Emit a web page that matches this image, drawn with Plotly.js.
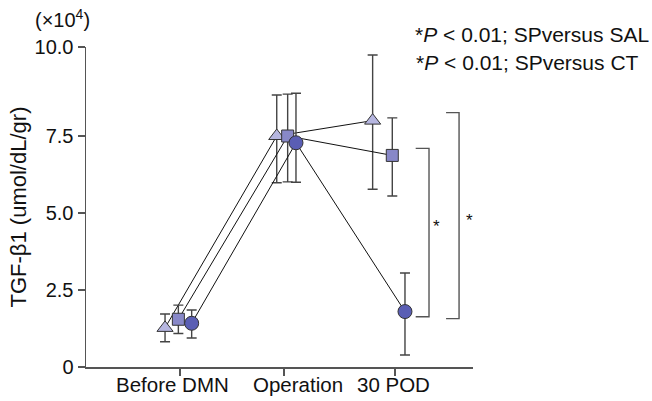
<!DOCTYPE html>
<html>
<head>
<meta charset="utf-8">
<script src="https://cdn.plot.ly/plotly-3.0.1.min.js"></script>
<style>html,body{margin:0;padding:0;background:#fff;}</style>
</head>
<body>
<div id="chart" style="width:652px;height:401px;"></div>
<script>
// Categories and their axis positions
const categories = ['Before DMN', 'Operation', '30 POD'];
const categoryPos = [1, 2, 3.067];
const yTickVals = [0, 2.5, 5, 7.5, 10.39];
const yTickText = ['0', '2.5', '5.0', '7.5', '10.0'];

// Series values (×10^4)
const triValues = [1.27, 7.50, 8.00];
const triErrPlus = [0.45, 1.33, 2.13];
const triErrMinus = [0.45, 1.52, 2.23];

const sqValues = [1.55, 7.50, 6.87];
const sqErrPlus = [0.46, 1.36, 1.22];
const sqErrMinus = [0.46, 1.49, 1.32];

const circValues = [1.42, 7.28, 1.80];
const circErrPlus = [0.43, 1.61, 1.25];
const circErrMinus = [0.48, 1.28, 1.41];

// horizontal dodge of each series around the category position
const triDodge = [-0.144, -0.070, -0.215];
const sqDodge = [-0.016, 0.035, -0.026];
const circDodge = [0.112, 0.115, 0.096];
// category label offset from its tick (labels in the original sit slightly off the ticks)
const labelShift = [-0.072, 0.134, -0.019];

const xs = d => categoryPos.map((p, i) => p + d[i]);

function series(name, vals, ep, em, dodge, symbol, color, size) {
  return {
    type: 'scatter', mode: 'lines+markers', name: name,
    x: xs(dodge), y: vals,
    line: {color: '#111', width: 1},
    marker: {symbol: symbol, size: size, color: color, line: {color: '#333', width: 1}},
    error_y: {type: 'data', symmetric: false, array: ep, arrayminus: em,
              color: '#444', thickness: 1.4, width: 5},
    showlegend: false, cliponaxis: false
  };
}

const data = [
  series('SAL', triValues, triErrPlus, triErrMinus, triDodge, 'triangle-up', '#b6b6e0', 14),
  series('CT', sqValues, sqErrPlus, sqErrMinus, sqDodge, 'square', '#8888c8', 12),
  series('SP', circValues, circErrPlus, circErrMinus, circDodge, 'circle', '#5a5eb4', 14)
];

const catLabels = categories.map((c, i) => ({
  xref: 'x', yref: 'paper', x: categoryPos[i] + labelShift[i], y: -0.056,
  xanchor: 'center', yanchor: 'middle', text: c, showarrow: false,
  font: {size: 20.5, color: '#111'}
}));

const br = {color: '#555', width: 1.4};
const layout = {
  width: 652, height: 401,
  margin: {l: 86, r: 179, t: 47, b: 34},
  paper_bgcolor: '#fff', plot_bgcolor: '#fff',
  font: {family: 'Liberation Sans, Arial, sans-serif', color: '#111'},
  xaxis: {
    range: [0.096, 3.817], tickvals: categoryPos, ticktext: categories,
    showticklabels: false,
    showgrid: false, zeroline: false, showline: true, linecolor: '#555', linewidth: 1.5,
    ticks: 'outside', ticklen: 7, tickcolor: '#555', tickwidth: 1.5
  },
  yaxis: {
    range: [0, 10.39], tickvals: yTickVals, ticktext: yTickText,
    showgrid: false, zeroline: false, showline: true, linecolor: '#555', linewidth: 1.5,
    ticks: 'outside', ticklen: 7, tickcolor: '#555', tickwidth: 1.5,
    tickfont: {size: 20, color: '#111'},
    title: {text: 'TGF-β1 (umol/dL/gr)', font: {size: 22, color: '#111'}, standoff: 2}
  },
  shapes: [
    {type: 'path', xref: 'x', yref: 'y', path: 'M3.266,7.10 L3.394,7.10 L3.394,1.63 L3.266,1.63', line: br},
    {type: 'path', xref: 'x', yref: 'y', path: 'M3.558,8.26 L3.683,8.26 L3.683,1.57 L3.558,1.57', line: br}
  ],
  annotations: catLabels.concat([
    {xref: 'x', yref: 'y', x: 3.468, y: 4.555, text: '*', showarrow: false, font: {size: 17}},
    {xref: 'x', yref: 'y', x: 3.788, y: 4.77, text: '*', showarrow: false, font: {size: 17}},
    {xref: 'paper', yref: 'paper', x: 0.846, y: 1.0375, xanchor: 'left', yanchor: 'middle',
     text: '*<i>P</i> < 0.01; SPversus SAL', showarrow: false, font: {size: 21}},
    {xref: 'paper', yref: 'paper', x: 0.848, y: 0.953, xanchor: 'left', yanchor: 'middle',
     text: '*<i>P</i> < 0.01; SPversus CT', showarrow: false, font: {size: 21}},
    {xref: 'paper', yref: 'paper', x: -0.138, y: 1.09, xanchor: 'left', yanchor: 'middle',
     text: '(×10<sup>4</sup>)', showarrow: false, font: {size: 20}}
  ])
};

Plotly.newPlot('chart', data, layout, {displayModeBar: false, staticPlot: true});
</script>
</body>
</html>
